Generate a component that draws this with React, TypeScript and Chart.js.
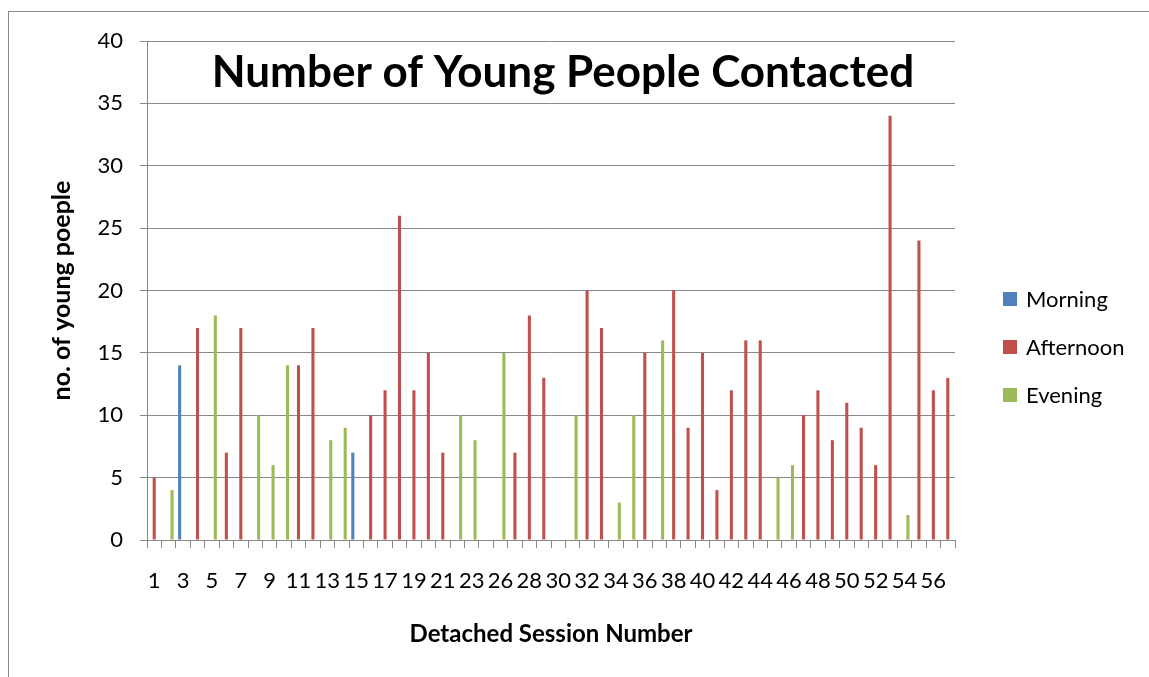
import { useEffect, useRef } from 'react';
import { Chart, registerables } from 'chart.js';

Chart.register(...registerables);

// ---- data ----
const SESSIONS = [
  '1', '2', '3', '4', '5', '6', '7', '8', '9', '10', '11', '12', '13', '14', '15', '16',
  '17', '18', '19', '20', '21', '22', '23', '24', '26', '27', '28', '29', '30', '31', '32',
  '33', '34', '35', '36', '37', '38', '39', '40', '41', '42', '43', '44', '45', '46', '47',
  '48', '49', '50', '51', '52', '53', '54', '55', '56', '57',
];

const SERIES_NAMES = ['Morning', 'Afternoon', 'Evening'];

const MORNING = [
  null, null, 14, null, null, null, null, null, null, null, null, null, null, null, 7, null,
  null, null, null, null, null, null, null, null, null, null, null, null, null, null, null,
  null, null, null, null, null, null, null, null, null, null, null, null, null, null, null,
  null, null, null, null, null, null, null, null, null, null,
];

const AFTERNOON = [
  5, null, null, 17, null, 7, 17, null, null, null, 14, 17, null, null, null, 10,
  12, 26, 12, 15, 7, null, null, null, null, 7, 18, 13, null, null, 20,
  17, null, null, 15, null, 20, 9, 15, 4, 12, 16, 16, null, null, 10,
  12, 8, 11, 9, 6, 34, null, 24, 12, 13,
];

const EVENING = [
  null, 4, null, null, 18, null, null, 10, 6, 14, null, null, 8, 9, null, null,
  null, null, null, null, null, 10, 8, null, 15, null, null, null, null, 10, null,
  null, 3, 10, null, 16, null, null, null, null, null, null, null, 5, 6, null,
  null, null, null, null, null, null, 2, null, null, null,
];

const Y_MIN = 0;
const Y_MAX = 40;
const Y_STEP = 5;

const TITLE = 'Number of Young People Contacted';
const X_TITLE = 'Detached Session Number';
const Y_TITLE = 'no. of young poeple';

// ---- styles ----
const COLORS = ['#4F81BD', '#C0504D', '#9BBB59'];
const GRID = '#888888';
const FONT = 'Lato, "Open Sans", sans-serif';

const framePlugin = {
  id: 'frame',
  beforeDraw(chart: any) {
    const ctx = chart.ctx;
    ctx.save();
    ctx.fillStyle = '#ffffff';
    ctx.fillRect(0, 0, chart.width, chart.height);
    ctx.strokeStyle = GRID;
    ctx.lineWidth = 1;
    ctx.strokeRect(8.5, 11.5, chart.width + 20, chart.height + 20);
    ctx.restore();
  },
};

const overlayPlugin = {
  id: 'overlay',
  afterDraw(chart: any) {
    const ctx = chart.ctx;
    const area = chart.chartArea;
    ctx.save();
    // title inside the plot
    ctx.fillStyle = '#000';
    ctx.font = `bold 44px ${FONT}`;
    ctx.textAlign = 'center';
    ctx.textBaseline = 'alphabetic';
    ctx.fillText(TITLE, (area.left + area.right) / 2 + 12, area.top + 46);

    // legend on the right
    ctx.font = `22px ${FONT}`;
    ctx.textAlign = 'left';
    ctx.textBaseline = 'middle';
    chart.data.datasets.forEach((ds: any, i: number) => {
      const cy = 299 + i * 48;
      ctx.fillStyle = ds.backgroundColor;
      ctx.fillRect(area.right + 48, cy - 7, 14, 14);
      ctx.fillStyle = '#000';
      ctx.fillText(ds.label, area.right + 71, cy + 1);
    });
    ctx.restore();
  },
};

export default function App() {
  const ref = useRef<HTMLCanvasElement | null>(null);

  useEffect(() => {
    if (!ref.current) return;
    const seriesData = [MORNING, AFTERNOON, EVENING];
    const chart = new Chart(ref.current, {
      type: 'bar',
      data: {
        labels: SESSIONS,
        datasets: SERIES_NAMES.map((name, i) => ({
          label: name,
          data: seriesData[i],
          backgroundColor: COLORS[i],
          borderWidth: 0,
          barPercentage: 0.9,
          categoryPercentage: 0.71,
        })),
      },
      options: {
        responsive: false,
        animation: false,
        events: [],
        layout: { padding: { left: 0, top: 41, right: 194, bottom: 0 } },
        plugins: {
          legend: { display: false },
          title: { display: false },
          tooltip: { enabled: false },
        },
        scales: {
          x: {
            grid: {
              display: true,
              drawOnChartArea: false,
              drawTicks: true,
              tickLength: 8,
              color: GRID,
              offset: true,
            },
            border: { display: true, color: GRID, width: 1 },
            ticks: {
              autoSkip: false,
              maxRotation: 0,
              minRotation: 0,
              padding: 20,
              color: '#000',
              font: { family: FONT, size: 22 },
              callback: (_v: any, i: number) => (i % 2 === 0 ? SESSIONS[i] : ''),
            },
            title: {
              display: true,
              text: X_TITLE,
              color: '#000',
              font: { family: FONT, size: 24, weight: 'bold' },
              padding: { top: 0, bottom: 28 },
            },
            afterFit: (s: any) => {
              s.height = 137;
            },
          },
          y: {
            min: Y_MIN,
            max: Y_MAX,
            ticks: {
              stepSize: Y_STEP,
              padding: 17,
              color: '#000',
              font: { family: FONT, size: 22 },
            },
            grid: { color: GRID, tickLength: 7 },
            border: { display: true, color: GRID, width: 1 },
            title: {
              display: true,
              text: Y_TITLE,
              color: '#000',
              font: { family: FONT, size: 25, weight: 'bold' },
              padding: { top: 47, bottom: 0 },
            },
            afterFit: (s: any) => {
              s.width = 147;
            },
          },
        },
      } as any,
      plugins: [framePlugin, overlayPlugin],
    });
    return () => chart.destroy();
  }, []);

  return (
    <div style={{ position: 'fixed', left: 0, top: 0, width: 1149, height: 677, background: '#fff' }}>
      <canvas ref={ref} width={1149} height={677} style={{ display: 'block' }} />
    </div>
  );
}
